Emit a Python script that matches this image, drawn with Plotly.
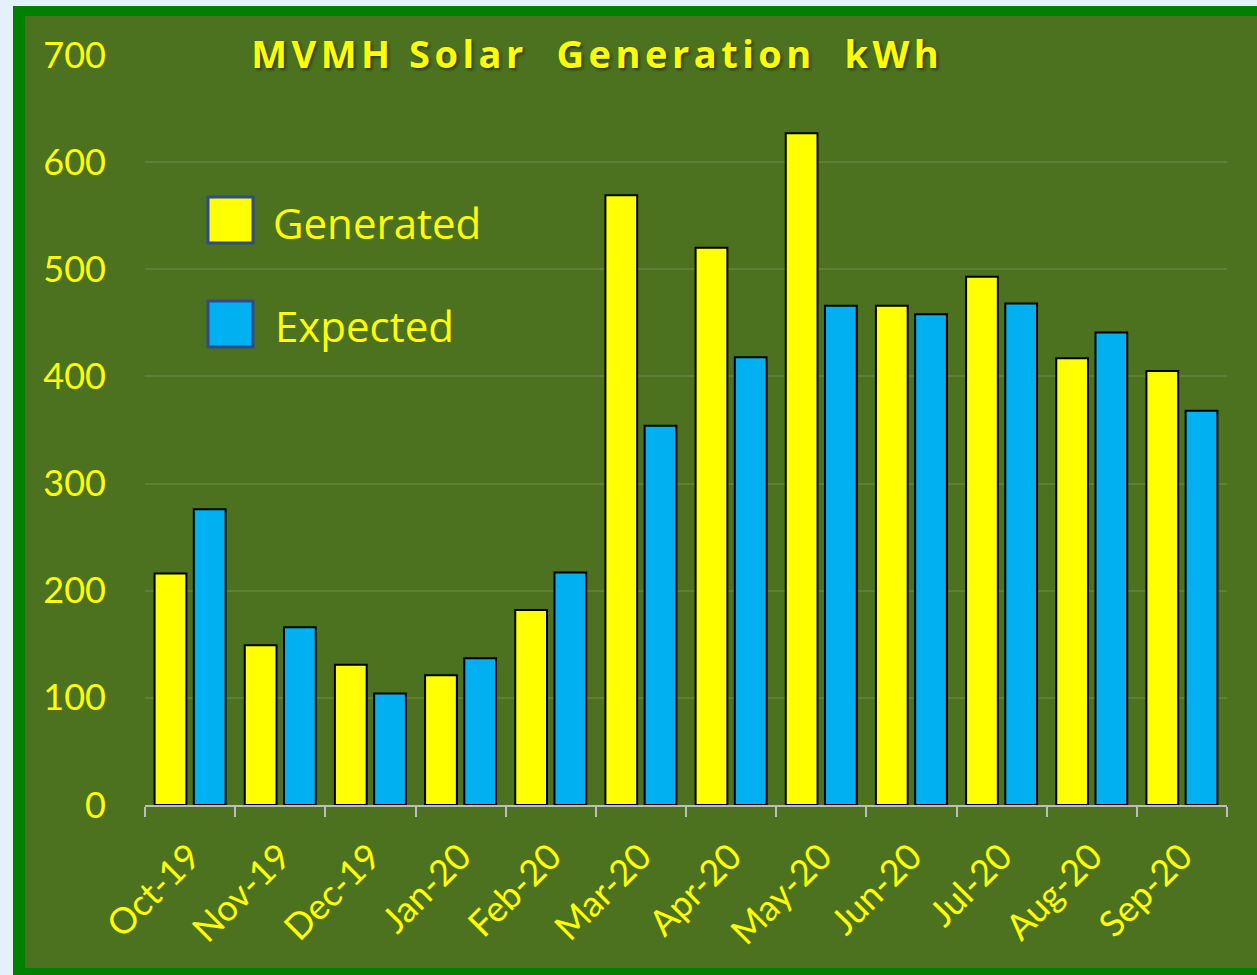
import plotly.graph_objects as go

months = ["Oct-19", "Nov-19", "Dec-19", "Jan-20", "Feb-20", "Mar-20",
          "Apr-20", "May-20", "Jun-20", "Jul-20", "Aug-20", "Sep-20"]
generated = [216, 149, 131, 121, 182, 569, 520, 627, 466, 493, 417, 405]
expected = [276, 166, 104, 137, 217, 354, 418, 466, 458, 468, 441, 368]
y_ticks = [0, 100, 200, 300, 400, 500, 600, 700]

YELLOW = "#FFFF00"
BLUE = "#00B0F0"
INNER = "#4C7220"
BORDER = "#008000"
PAGE = "#E4F1FA"

W, H = 1257, 975
L, R, T, B = 145, 30, 55, 170
PW, PH = W - L - R, H - T - B


def px(x):
    return (x - L) / PW


def py(y):
    return (H - B - y) / PH


fig = go.Figure()
fig.add_trace(go.Bar(x=months, y=generated, name="Generated",
                     marker=dict(color=YELLOW, line=dict(color="black", width=2))))
fig.add_trace(go.Bar(x=months, y=expected, name="Expected",
                     marker=dict(color=BLUE, line=dict(color="black", width=2))))

shapes = [
    dict(type="rect", xref="paper", yref="paper", x0=px(13), x1=px(1300), y0=py(6), y1=py(1000),
         fillcolor=BORDER, line=dict(width=0), layer="below"),
    dict(type="rect", xref="paper", yref="paper", x0=px(25), x1=px(1300), y0=py(16), y1=py(968),
         fillcolor=INNER, line=dict(width=0), layer="below"),
    # legend swatches
    dict(type="rect", xref="paper", yref="paper", x0=px(208), x1=px(253), y0=py(197), y1=py(243),
         fillcolor=YELLOW, line=dict(color="#2F4B8C", width=3), layer="above"),
    dict(type="rect", xref="paper", yref="paper", x0=px(208), x1=px(253), y0=py(301), y1=py(347),
         fillcolor=BLUE, line=dict(color="#2F4B8C", width=3), layer="above"),
]

annotations = [
    dict(text="MVMH Solar  Generation  kWh", xref="paper", yref="paper",
         x=px(597), y=py(53), xanchor="center", yanchor="middle", showarrow=False,
         font=dict(family="Open Sans", size=38, color=YELLOW, weight="bold",
                   shadow="2px 2px 3px rgba(0,0,0,0.45)")),
    dict(text="Generated", xref="paper", yref="paper", x=px(271), y=py(222),
         xanchor="left", yanchor="middle", showarrow=False,
         font=dict(family="Open Sans", size=42, color=YELLOW)),
    dict(text="Expected", xref="paper", yref="paper", x=px(273), y=py(326),
         xanchor="left", yanchor="middle", showarrow=False,
         font=dict(family="Open Sans", size=42, color=YELLOW)),
]

fig.update_layout(
    width=W, height=H, autosize=False,
    margin=dict(l=L, r=R, t=T, b=B, pad=0),
    paper_bgcolor=PAGE,
    plot_bgcolor=INNER,
    barmode="group", bargap=0.13, bargroupgap=0.19,
    showlegend=False,
    shapes=shapes,
    annotations=annotations,
    font=dict(family="Lato", color=YELLOW),
)
fig.update_xaxes(
    type="category", tickangle=-45, tickson="boundaries",
    ticks="outside", ticklen=10, tickwidth=2, tickcolor="#BDBDBD",
    showline=True, linecolor="#BDBDBD", linewidth=2,
    ticklabelstandoff=14,
    tickfont=dict(family="Lato", size=36, color=YELLOW),
    showgrid=False,
)
fig.update_yaxes(
    range=[0, 700], tickvals=y_ticks, ticks="", ticklabelstandoff=38,
    tickfont=dict(family="Lato", size=36, color=YELLOW),
    showgrid=True, gridcolor="rgba(255,255,255,0.10)", gridwidth=2,
    zeroline=False, showline=False,
)

post = """
document.body.style.margin = '0';
document.body.style.background = '%s';
document.querySelectorAll('text.annotation-text').forEach(function (t) {
  if ((t.textContent || '').indexOf('MVMH') === 0) { t.style.letterSpacing = '4.5px'; }
});
""" % PAGE

fig.write_html("out.html", post_script=post, config={"displayModeBar": False})
